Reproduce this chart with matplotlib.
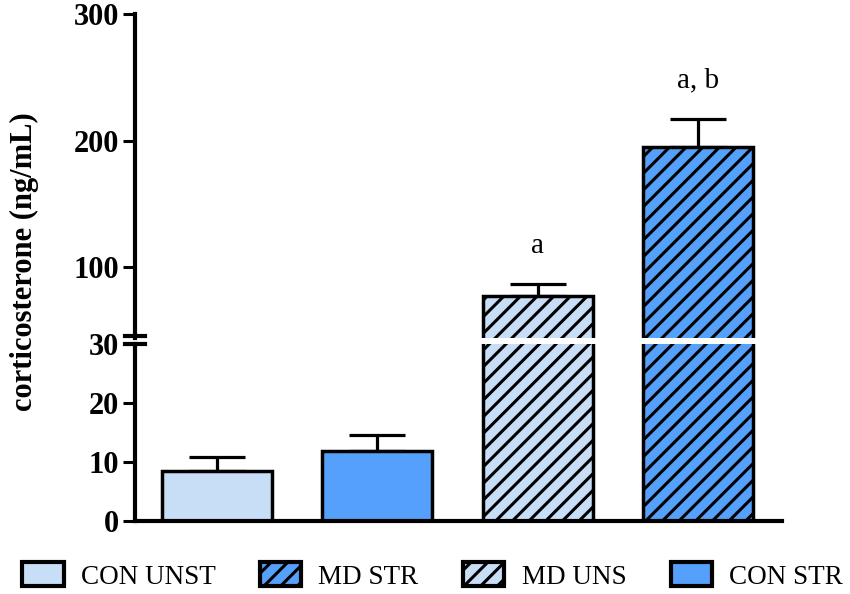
import matplotlib
matplotlib.use("Agg")
import matplotlib.pyplot as plt
from matplotlib.patches import Patch
from matplotlib.lines import Line2D

# ---- data ----
groups = ["CON UNST", "CON STR", "MD UNS", "MD STR"]
means = [8.4, 11.9, 77.2, 195.2]
sems = [2.5, 2.7, 9.5, 22.2]
annotations = ["", "", "a", "a, b"]
lower_ticks = [0, 10, 20, 30]
upper_ticks = [100, 200, 300]
legend_order = ["CON UNST", "MD STR", "MD UNS", "CON STR"]

LIGHT = "#c8def7"
BLUE = "#55a0fa"
style = {
    "CON UNST": (LIGHT, ""),
    "CON STR": (BLUE, ""),
    "MD UNS": (LIGHT, "//"),
    "MD STR": (BLUE, "//"),
}

plt.rcParams["hatch.linewidth"] = 2.2
plt.rcParams["font.family"] = ["Liberation Serif", "DejaVu Serif"]

W, H = 850, 594
fig = plt.figure(figsize=(8.5, 5.94), dpi=100)

def fx(px):
    return px / W

def fy(py):
    return (H - py) / H

left, right = 135, 782
low_top, low_bot = 344, 521
up_top, up_bot = 14, 338

ax_low = fig.add_axes([fx(left), fy(low_bot), fx(right - left), fy(low_top) - fy(low_bot)])
ax_up = fig.add_axes([fx(left), fy(up_bot), fx(right - left), fy(up_top) - fy(up_bot)])

x = list(range(len(groups)))
colors = [style[g][0] for g in groups]
hatches = [style[g][1] for g in groups]

for ax in (ax_low, ax_up):
    bars = ax.bar(x, means, width=0.685, color=colors, edgecolor="black",
                  linewidth=2.5, zorder=2)
    for b, h in zip(bars, hatches):
        b.set_hatch(h)
    ax.errorbar(x, means, yerr=[[0] * len(sems), sems], fmt="none",
                ecolor="black", elinewidth=2.3, capsize=20.5, capthick=2.3, zorder=1)
    ax.set_xlim(-0.508, 3.523)
    ax.set_xticks([])
    for s in ("top", "right"):
        ax.spines[s].set_visible(False)
    ax.spines["left"].set_linewidth(3)
    ax.tick_params(axis="y", length=8.6, width=2.2, pad=3, labelsize=22)

ax_low.set_ylim(0, 30)
ax_low.set_yticks(lower_ticks)
ax_low.spines["bottom"].set_linewidth(3)
ax_up.set_ylim(44.3, 300)
ax_up.set_yticks(upper_ticks)
ax_up.spines["bottom"].set_visible(False)
for ax in (ax_low, ax_up):
    for lab in ax.get_yticklabels():
        lab.set_fontweight("bold")

for xi, m, e, t in zip(x, means, sems, annotations):
    if t:
        ax_up.text(xi, m + e + 30, t, ha="center", va="center", fontsize=21)

# break marks on the axis
for py in (up_bot - 2, low_top):
    fig.add_artist(Line2D([fx(left - 10), fx(left + 10)], [fy(py), fy(py)],
                          color="black", lw=3, transform=fig.transFigure))

fig.text(fx(24), fy(262), "corticosterone (ng/mL)", rotation=90,
         ha="center", va="center", fontsize=22, fontweight="bold")

handles = [Patch(facecolor=style[g][0], hatch=style[g][1], edgecolor="black",
                 linewidth=3, label=g) for g in legend_order]
fig.legend(handles=handles, loc="center", bbox_to_anchor=(0.509, fy(576)),
           ncol=4, frameon=False, fontsize=19.5, handlelength=1.52,
           handleheight=0.96, handletextpad=0.63, columnspacing=1.65,
           borderpad=0, borderaxespad=0)

fig.savefig("out.png", dpi=100)
